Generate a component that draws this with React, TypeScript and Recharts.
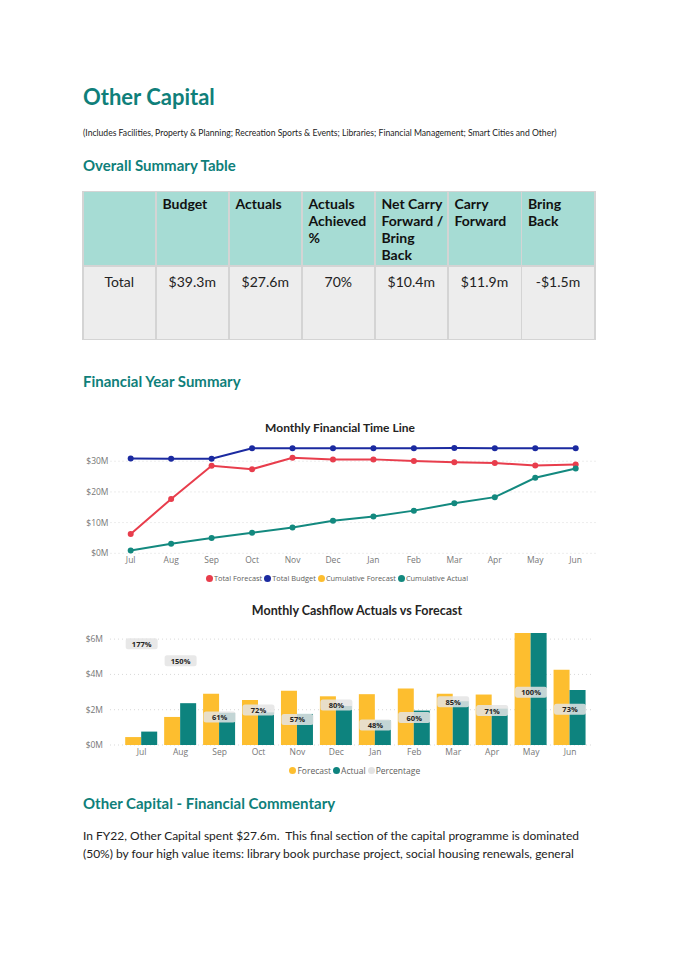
import React from 'react';
import { LineChart, Line, Bar, XAxis, YAxis, CartesianGrid, Legend, ComposedChart } from 'recharts';

const months = ['Jul', 'Aug', 'Sep', 'Oct', 'Nov', 'Dec', 'Jan', 'Feb', 'Mar', 'Apr', 'May', 'Jun'];
const totalForecast = [6.3, 17.7, 28.5, 27.4, 31.1, 30.6, 30.6, 30.1, 29.7, 29.4, 28.6, 28.9];
const totalBudget = [30.9, 30.8, 30.8, 34.2, 34.2, 34.2, 34.2, 34.2, 34.3, 34.2, 34.2, 34.2];
const cumulativeActual = [0.9, 3.1, 5.0, 6.7, 8.4, 10.6, 12.0, 13.9, 16.3, 18.3, 24.6, 27.6];
const lineTicks = [0, 10, 20, 30];

const cashForecast = [0.45, 1.59, 2.91, 2.55, 3.07, 2.76, 2.88, 3.2, 2.9, 2.86, 6.34, 4.26];
const cashActual = [0.76, 2.37, 1.82, 1.85, 1.76, 2.21, 1.4, 1.95, 2.48, 2.06, 6.34, 3.12];
const percentage = [177, 150, 61, 72, 57, 80, 48, 60, 85, 71, 100, 73];
const barTicks = [0, 2, 4, 6];

const tableHeaders = ['', 'Budget', 'Actuals', 'Actuals Achieved %', 'Net Carry Forward / Bring Back', 'Carry Forward', 'Bring Back'];
const tableHeaderLines = [[''], ['Budget'], ['Actuals'], ['Actuals', 'Achieved', '%'], ['Net Carry', 'Forward /', 'Bring', 'Back'], ['Carry', 'Forward'], ['Bring', 'Back']];
const tableRow = ['Total', '$39.3m', '$27.6m', '70%', '$10.4m', '$11.9m', '-$1.5m'];

const lineLegend = [
  { label: 'Total Forecast', color: '#E83D4C' },
  { label: 'Total Budget', color: '#1B2AA0' },
  { label: 'Cumulative Forecast', color: '#FDBE2F' },
  { label: 'Cumulative Actual', color: '#13897F' },
];
const barLegend = [
  { label: 'Forecast', color: '#FDBE2F' },
  { label: 'Actual', color: '#0D837E' },
  { label: 'Percentage', color: '#E3E3E3' },
];

const lineData = months.map((m, i) => ({
  month: m,
  totalForecast: totalForecast[i],
  totalBudget: totalBudget[i],
  cumulativeActual: cumulativeActual[i],
}));
const barData = months.map((m, i) => ({
  month: m,
  forecast: cashForecast[i],
  actual: cashActual[i],
  pct: percentage[i],
}));

const docFont = 'Lato, "Open Sans", sans-serif';
const chartFont = '"Open Sans", "Noto Sans", sans-serif';
const teal = '#0F7F7A';

const LegendRow = ({ items, shift = 0, size = 8.5 }: { items: { label: string; color: string }[]; shift?: number; size?: number }) => (
  <div
    style={{
      display: 'flex',
      justifyContent: 'center',
      alignItems: 'center',
      height: 16,
      fontFamily: chartFont,
      fontSize: size,
      color: '#605E5C',
      paddingLeft: shift,
    }}
  >
    {items.map((it) => (
      <span key={it.label} style={{ display: 'flex', alignItems: 'center', marginRight: 2 }}>
        <span
          style={{
            display: 'inline-block',
            width: 7,
            height: 7,
            borderRadius: '50%',
            background: it.color,
            marginRight: 1,
          }}
        />
        {it.label}
      </span>
    ))}
  </div>
);

const PctLabel = (props: any) => {
  const { x, y, value } = props;
  if (x == null || y == null) return null;
  return (
    <g>
      <rect x={x - 16} y={y - 5.5} width={32} height={11} rx={2.5} fill="#E4E4E4" fillOpacity={0.85} />
      <text
        x={x}
        y={y}
        dy={3}
        textAnchor="middle"
        fontSize={7.5}
        fontWeight={700}
        fontFamily={chartFont}
        fill="#252423"
      >
        {value}%
      </text>
    </g>
  );
};

const tickStyle = { fontSize: 8.5, fill: '#777', fontFamily: chartFont };

export default function App() {
  const colX = [83, 156, 229, 302, 375, 448, 521.5, 595];
  return (
    <div style={{ position: 'absolute', left: 0, top: 0, width: 675, height: 955, background: '#fff', overflow: 'hidden' }}>
      <div style={{ position: 'absolute', left: 83, top: 81, fontFamily: docFont, fontWeight: 700, fontSize: 22, color: teal, lineHeight: '32px' }}>
        Other Capital
      </div>
      <div style={{ position: 'absolute', left: 83, top: 127, fontFamily: docFont, fontSize: 8.6, color: '#222', lineHeight: '12px', whiteSpace: 'nowrap' }}>
        (Includes Facilities, Property &amp; Planning; Recreation Sports &amp; Events; Libraries; Financial Management; Smart Cities and Other)
      </div>
      <div style={{ position: 'absolute', left: 83, top: 155, fontFamily: docFont, fontWeight: 700, fontSize: 15, color: teal, lineHeight: '20px' }}>
        Overall Summary Table
      </div>

      {/* table */}
      <div style={{ position: 'absolute', left: 82, top: 191, width: 514, height: 149, background: '#D4D4D4' }} />
      {tableHeaderLines.map((lines, i) => (
        <div
          key={'h' + i}
          style={{
            position: 'absolute',
            left: colX[i] + 0.5,
            top: 192,
            width: colX[i + 1] - colX[i] - 1.5,
            height: 73,
            background: '#A6DCD4',
            fontFamily: docFont,
            fontWeight: 700,
            fontSize: 14,
            lineHeight: '17.3px',
            color: '#111',
            boxSizing: 'border-box',
            paddingLeft: 6,
            paddingTop: 2.5,
          }}
          title={tableHeaders[i]}
        >
          {lines.map((l, j) => (
            <div key={j} style={{ whiteSpace: 'nowrap' }}>{l}</div>
          ))}
        </div>
      ))}
      {tableRow.map((v, i) => (
        <div
          key={'r' + i}
          style={{
            position: 'absolute',
            left: colX[i] + 0.5,
            top: 266.5,
            width: colX[i + 1] - colX[i] - 1.5,
            height: 72,
            background: '#EDEDED',
            fontFamily: docFont,
            fontSize: 14,
            lineHeight: '17px',
            color: '#222',
            textAlign: 'center',
            boxSizing: 'border-box',
            paddingTop: 6,
          }}
        >
          {v}
        </div>
      ))}

      <div style={{ position: 'absolute', left: 83, top: 371, fontFamily: docFont, fontWeight: 700, fontSize: 15, color: teal, lineHeight: '20px' }}>
        Financial Year Summary
      </div>

      {/* line chart */}
      <div style={{ position: 'absolute', left: 80, top: 420, width: 520, textAlign: 'center', fontFamily: docFont, fontWeight: 700, fontSize: 12, color: '#252423', lineHeight: '16px' }}>
        Monthly Financial Time Line
      </div>
      <div style={{ position: 'absolute', left: 80, top: 420 }}>
        <LineChart width={520} height={170} data={lineData} margin={{ top: 22.8, right: 4, left: 0, bottom: 4 }}>
          <CartesianGrid vertical={false} stroke="#D9D9D9" strokeDasharray="1 3" syncWithTicks />
          <XAxis dataKey="month" axisLine={false} tickLine={false} tickSize={0} tickMargin={4} height={16.7} tick={tickStyle} interval={0} padding={{ left: 20.2, right: 20.3 }} />
          <YAxis
            width={30.5}
            domain={[0, 36]}
            ticks={lineTicks}
            axisLine={false}
            tickLine={false}
            tickSize={0}
            tickMargin={2}
            tick={tickStyle}
            tickFormatter={(v: number) => `$${v}M`}
          />
          <Legend verticalAlign="bottom" content={() => <LegendRow items={lineLegend} size={7.4} />} />
          <Line dataKey="totalForecast" stroke="#E83D4C" strokeWidth={2} dot={{ r: 3, fill: '#E83D4C', stroke: '#E83D4C', strokeWidth: 0 }} isAnimationActive={false} />
          <Line dataKey="totalBudget" stroke="#1B2AA0" strokeWidth={2} dot={{ r: 3, fill: '#1B2AA0', stroke: '#1B2AA0', strokeWidth: 0 }} isAnimationActive={false} />
          <Line dataKey="cumulativeActual" stroke="#13897F" strokeWidth={2} dot={{ r: 3, fill: '#13897F', stroke: '#13897F', strokeWidth: 0 }} isAnimationActive={false} />
        </LineChart>
      </div>

      {/* bar chart */}
      <div style={{ position: 'absolute', left: 97, top: 603, width: 520, textAlign: 'center', fontFamily: docFont, fontWeight: 700, fontSize: 12.5, color: '#252423', lineHeight: '16px' }}>
        Monthly Cashflow Actuals vs Forecast
      </div>
      <div style={{ position: 'absolute', left: 80, top: 600 }}>
        <ComposedChart width={520} height={185} data={barData} margin={{ top: 30.3, right: 8.3, left: 0, bottom: 6.3 }} barGap={0}>
          <CartesianGrid vertical={false} stroke="#D9D9D9" strokeDasharray="1 3" syncWithTicks yAxisId="left" />
          <XAxis dataKey="month" axisLine={false} tickLine={false} tickSize={0} tickMargin={4} height={17.7} tick={tickStyle} interval={0} padding={{ left: 12.2, right: 2.2 }} />
          <YAxis
            yAxisId="left"
            width={30}
            domain={[0, 6.5]}
            ticks={barTicks}
            axisLine={false}
            tickLine={false}
            tickSize={0}
            tickMargin={7}
            tick={tickStyle}
            tickFormatter={(v: number) => `$${v}M`}
          />
          <YAxis yAxisId="right" orientation="right" hide domain={[16.4, 198.4]} allowDataOverflow />
          <Legend verticalAlign="bottom" content={() => <LegendRow items={barLegend} shift={40} />} />
          <Bar yAxisId="left" dataKey="forecast" fill="#FDBE2F" barSize={16} isAnimationActive={false} />
          <Bar yAxisId="left" dataKey="actual" fill="#0D837E" barSize={16} isAnimationActive={false} />
          <Line yAxisId="right" dataKey="pct" stroke="none" dot={false} activeDot={false} label={<PctLabel />} isAnimationActive={false} />
        </ComposedChart>
      </div>

      <div style={{ position: 'absolute', left: 83, top: 793, fontFamily: docFont, fontWeight: 700, fontSize: 15, color: teal, lineHeight: '20px' }}>
        Other Capital - Financial Commentary
      </div>
      <div style={{ position: 'absolute', left: 83, top: 827, fontFamily: docFont, fontSize: 12, color: '#222', lineHeight: '18px', whiteSpace: 'nowrap' }}>
        In FY22, Other Capital spent $27.6m.&nbsp; This final section of the capital programme is dominated
        <br />
        (50%) by four high value items: library book purchase project, social housing renewals, general
      </div>
    </div>
  );
}
